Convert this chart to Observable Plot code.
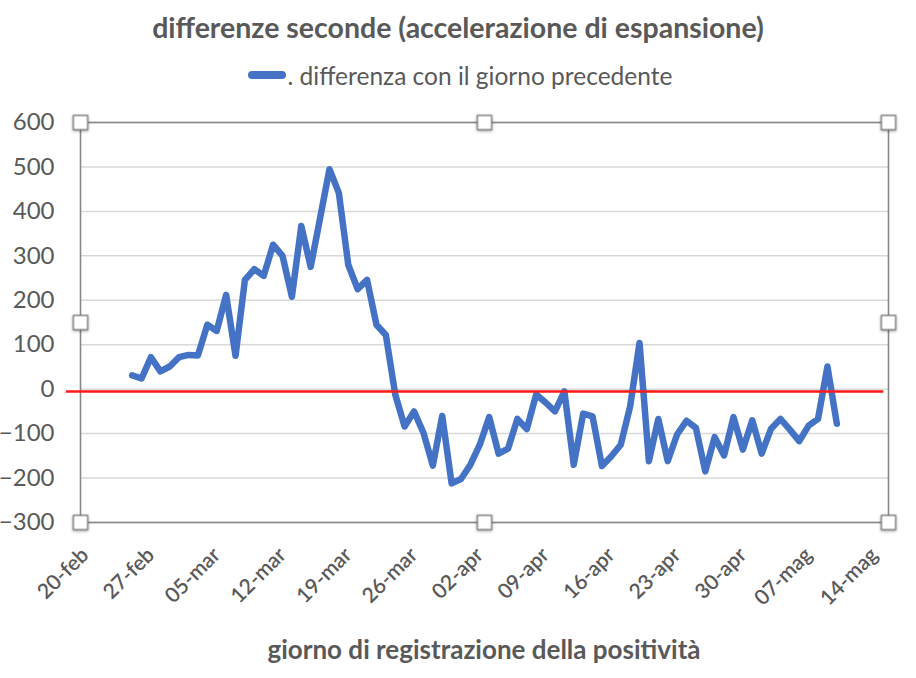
<!DOCTYPE html>
<html><head><meta charset="utf-8">
<script src="https://cdn.jsdelivr.net/npm/d3@7"></script>
<script src="https://cdn.jsdelivr.net/npm/@observablehq/plot@0.6"></script>
<style>
html,body{margin:0;padding:0;background:#fff;}
body{width:916px;font-family:Lato,"Open Sans",sans-serif;color:#595959;}
#title{height:50px;line-height:54px;text-align:center;font-weight:700;font-size:28.5px;}
#legend{height:50px;display:flex;align-items:center;justify-content:center;font-size:24.5px;padding-left:4px;}
.sw{display:inline-block;width:38px;height:8px;border-radius:4px;background:#4472C4;margin-right:2px;}
#chart{height:522px;}
#xtitle{height:54px;line-height:54px;text-align:center;font-weight:700;font-size:26px;padding-left:52px;box-sizing:border-box;width:916px;}
</style></head><body>
<div id="title">differenze seconde (accelerazione di espansione)</div>
<div id="legend"><span class="sw"></span><span>. differenza con il giorno precedente</span></div>
<div id="chart"></div>
<div id="xtitle">giorno di registrazione della positività</div>
<script>
// Series: daily values from 25-feb-2020 to 10-mag-2020
const seriesName = ". differenza con il giorno precedente";
const firstDay = "2020-02-25";
const values = [
  31, 24, 72, 40, 51, 72, 77, 76, 145, 131,
  212, 75, 246, 270, 255, 325, 300, 208, 367, 275,
  385, 495, 441, 280, 225, 246, 145, 122, -12, -84,
  -50, -98, -172, -60, -212, -202, -170, -125, -63, -145,
  -134, -67, -90, -12, -30, -50, -5, -170, -55, -61,
  -173, -151, -125, -39, 104, -162, -67, -162, -102, -71,
  -87, -185, -108, -149, -63, -136, -70, -145, -89, -67,
  -91, -117, -82, -67, 51, -78
];
const xTickDates = ["2020-02-20","2020-02-27","2020-03-05","2020-03-12","2020-03-19","2020-03-26","2020-04-02","2020-04-09","2020-04-16","2020-04-23","2020-04-30","2020-05-07","2020-05-14"];
const xTickLabels = ["20-feb","27-feb","05-mar","12-mar","19-mar","26-mar","02-apr","09-apr","16-apr","23-apr","30-apr","07-mag","14-mag"];
const yTicks = [-300, -200, -100, 0, 100, 200, 300, 400, 500, 600];
const yDomain = [-300, 600];
const xDomain = ["2020-02-19T12:00Z", "2020-05-15T12:00Z"];
const redLevel = -5;
const redSpan = ["2020-02-18", "2020-05-15"];

const start = new Date(firstDay + "T00:00Z");
const data = values.map((v, i) => ({date: d3.utcDay.offset(start, i), value: v}));
const tickDates = xTickDates.map(s => new Date(s + "T00:00Z"));
const xd = xDomain.map(s => new Date(s));
const xs = [xd[0], new Date((+xd[0] + +xd[1]) / 2), xd[1]];
const ys = [yDomain[0], (yDomain[0] + yDomain[1]) / 2, yDomain[1]];
const handles = [];
xs.forEach((x, i) => ys.forEach((y, j) => { if (!(i === 1 && j === 1)) handles.push({x, y}); }));
const redRule = [{y: redLevel, x1: new Date(redSpan[0] + "T00:00Z"), x2: new Date(redSpan[1] + "T00:00Z")}];

const font = "Lato, 'Open Sans', sans-serif";
const plot = Plot.plot({
  width: 916, height: 522,
  marginTop: 22, marginLeft: 80, marginRight: 28, marginBottom: 100,
  style: {fontFamily: font, color: "#595959", background: "white", overflow: "visible"},
  x: {type: "utc", domain: xd},
  y: {domain: yDomain},
  marks: [
    Plot.gridY(yTicks, {stroke: "#d9d9d9", strokeOpacity: 1, strokeWidth: 1.5}),
    Plot.frame({stroke: "#888888", strokeWidth: 1.6}),
    Plot.axisY({ticks: yTicks, tickSize: 0, tickPadding: 26, fontSize: 24, label: null, fill: "#595959"}),
    Plot.axisX({ticks: tickDates, tickSize: 0, tickPadding: 29, tickRotate: -45, fontSize: 21, fontWeight: 600, label: null, fill: "#595959",
      tickFormat: d => xTickLabels[tickDates.findIndex(t => +t === +d)]}),
    Plot.line(data, {x: "date", y: "value", stroke: "#4472C4", strokeWidth: 6.5, strokeLinejoin: "round", strokeLinecap: "round"}),
    Plot.ruleY(redRule, {y: "y", x1: "x1", x2: "x2", stroke: "#ff1a1a", strokeWidth: 2.5}),
    Plot.dot(handles, {x: "x", y: "y", symbol: "square", r: 8, fill: "white", stroke: "#777777", strokeWidth: 1.2})
  ]
});
plot.querySelectorAll('g[aria-label="dot"]').forEach(g => g.style.filter = "drop-shadow(0px 1px 1.5px rgba(0,0,0,0.35))");
document.getElementById("chart").appendChild(plot);
</script>
</body></html>
